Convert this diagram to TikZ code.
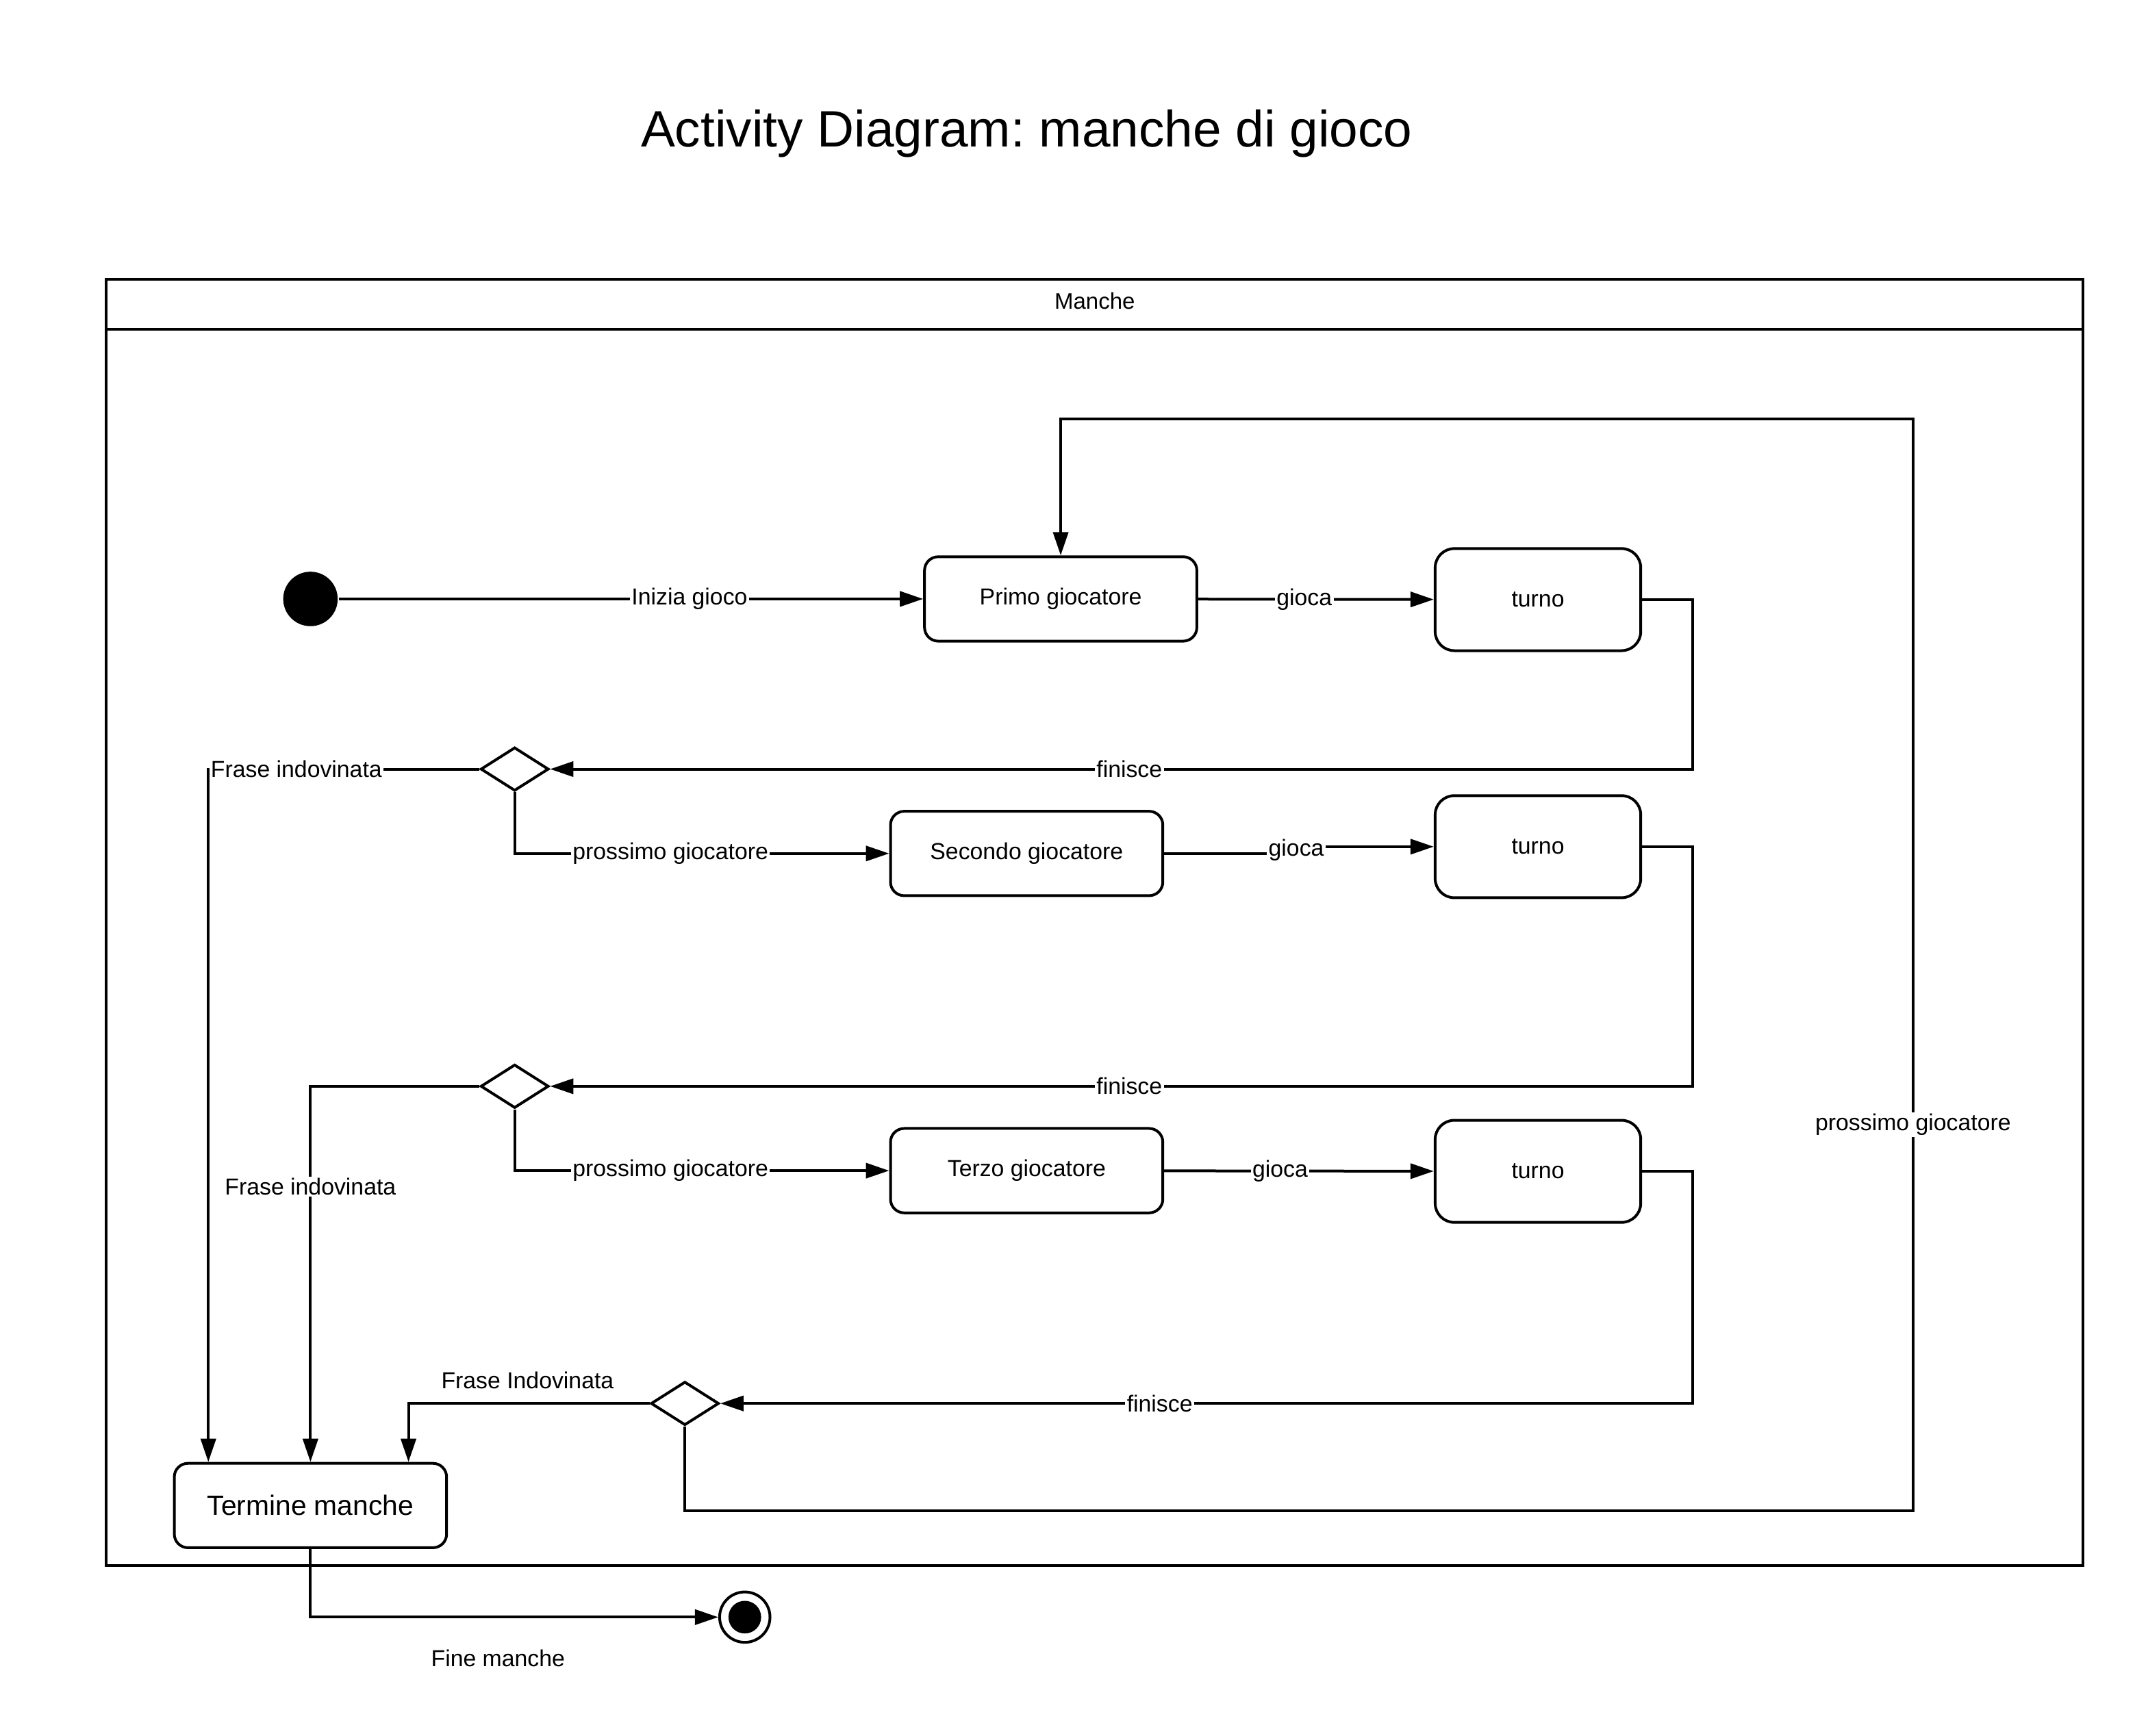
\documentclass[tikz,border=0pt]{standalone}
\usepackage{fontspec}
\setmainfont{Liberation Sans}
\usetikzlibrary{arrows.meta,shapes.geometric}
\def\u{0.49713pt}
\frenchspacing
\begin{document}
\begin{tikzpicture}[x=\u,y=-\u, line width=1pt,
  every node/.style={font=\fontsize{8.45}{10}\selectfont},
  act/.style={draw, rounded corners=5pt, minimum width=200*\u, minimum height=62*\u, inner sep=0pt, line width=1pt},
  turnbox/.style={draw, rounded corners=7pt, minimum width=151*\u, minimum height=75*\u, inner sep=0pt, line width=1pt},
  dec/.style={draw, diamond, minimum width=50*\u, minimum height=32*\u, inner sep=0pt, line width=1pt},
  lbl/.style={fill=white, inner sep=0.6pt},
  flow/.style={-{Triangle[length=8.5pt,width=5.5pt]}}]
\useasboundingbox (0,0) rectangle (1568,1275);

% title
\node (title) at (754,98) {\fontsize{18.7}{22}\selectfont Activity Diagram: manche di gioco};

% frame
\draw (78,205) rectangle (1530,1150);
\draw (78,242) -- (1530,242);
\node (frame) at (804,221) {\fontsize{8.25}{10}\selectfont Manche};

% nodes
\node[circle, fill=black, minimum size=40*\u, inner sep=0pt] (ini) at (228,440) {};
\node[act] (primo) at (779,440) {Primo giocatore};
\node[turnbox] (t1) at (1129.5,440.5) {turno};
\node[dec] (d1) at (378,565) {};
\node[act] (sec) at (754,627) {Secondo giocatore};
\node[turnbox] (t2) at (1129.5,622) {turno};
\node[dec] (d2) at (378,798) {};
\node[act] (ter) at (754,860) {Terzo giocatore};
\node[turnbox] (t3) at (1129.5,860.5) {turno};
\node[dec] (d3) at (503,1031) {};
\node[act] (term) at (228,1106) {\fontsize{10.2}{12}\selectfont Termine manche};
\node[circle, draw, minimum size=37*\u, inner sep=0pt] (fin) at (547,1188) {};
\node[circle, fill=black, minimum size=24*\u, inner sep=0pt] (finin) at (547,1188) {};

\coordinate (c1) at (153,565);
\coordinate (c2) at (228,798);
\coordinate (c3) at (300,1031);

% connectors
\draw[flow] (ini) -- node[lbl, pos=0.6] {Inizia gioco} (primo);
\draw[flow] (primo) -- node[lbl, pos=0.45] {gioca} (t1);
\draw[flow] (t1.east) -| (1243,565) -- node[lbl, pos=0.493] {finisce} (d1.east);
\draw[flow] (d1.west) -- node[lbl, pos=0.675] {Frase indovinata} (c1) -- (c1 |- term.north);
\draw[flow] (d1.south) |- node[lbl, pos=0.708] {prossimo giocatore} (sec.west);

\draw[flow] (sec.east) -- (952,627) -- node[lbl] {gioca} (952,622) -- (t2.west);
\draw[flow] (t2.east) -| (1243,798) -- node[lbl, pos=0.493] {finisce} (d2.east);
\draw[flow] (d2.west) -- (c2) -- node[lbl, pos=0.267] {Frase indovinata} (term.north);
\draw[flow] (d2.south) |- node[lbl, pos=0.708] {prossimo giocatore} (ter.west);

\draw[flow] (ter) -- node[lbl, pos=0.43] {gioca} (t3);
\draw[flow] (t3.east) -| (1243,1031) -- node[lbl, pos=0.548] {finisce} (d3.east);
\draw[flow] (d3.west) -- node[pos=0.506, above=4.3pt, inner sep=0.6pt] {Frase Indovinata} (c3) -- (c3 |- term.north);
\draw[flow] (d3.south) |- (1405,1110) -- node[lbl, pos=0.354] {prossimo giocatore} (1405,308) -| (primo.north);

\draw[flow] (term.south) |- node[pos=0.73, below=10.8pt, inner sep=0.6pt] {Fine manche} (fin.west);
\end{tikzpicture}
\end{document}
